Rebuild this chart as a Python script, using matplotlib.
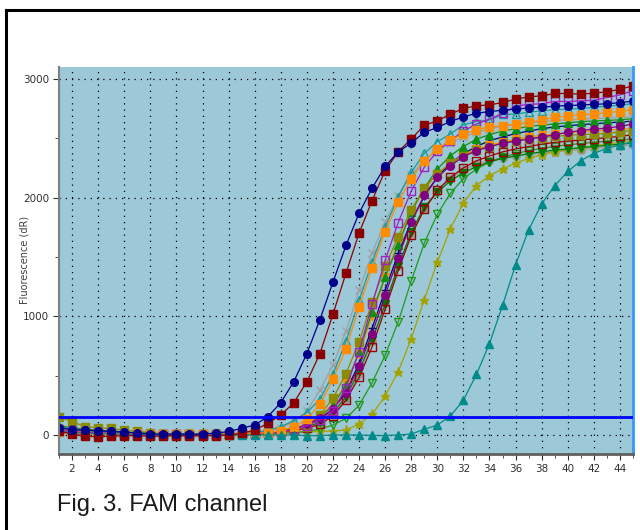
import matplotlib
matplotlib.use('Agg')
import matplotlib.pyplot as plt
from matplotlib.lines import Line2D
from matplotlib.ticker import MultipleLocator

cycles = list(range(1, 46))

# amplification curves, one list per well (dR per cycle)
navy_circle = [60, 45, 40, 35, 30, 25, 15, 10, 5, 10, 5, 10, 15, 30, 56, 84, 154, 272, 450, 686,
               972, 1288, 1597, 1868, 2080, 2262, 2385, 2460, 2549, 2591, 2641, 2680, 2710, 2725, 2735,
               2745, 2755, 2760, 2770, 2775, 2780, 2785, 2790, 2800, 2812]
darkred_square = [30, 10, -10, -15, -10, -5, -5, -10, -10, -5, -10, -5, -5, 0, 15, 40, 98, 168, 272, 448,
                  686, 1017, 1364, 1700, 1975, 2227, 2387, 2493, 2610, 2645, 2703, 2751, 2773, 2781, 2801,
                  2829, 2849, 2857, 2877, 2877, 2871, 2880, 2891, 2913, 2941]
purple_open_square = [40, 30, 20, 20, 15, 10, 5, 0, 0, 5, 0, 0, 5, 5, 5, 10, 15, 25, 45, 80,
                      130, 200, 400, 700, 1100, 1471, 1790, 2055, 2255, 2390, 2480, 2560, 2620, 2660, 2710,
                      2770, 2786, 2790, 2810, 2810, 2815, 2820, 2843, 2865, 2900]
orange_square = [22, 15, 10, 5, 10, 5, 15, 5, 5, 5, 5, 10, 5, 10, 10, 15, 20, 36, 70, 132,
                 257, 468, 728, 1078, 1406, 1714, 1961, 2157, 2311, 2409, 2485, 2535, 2569, 2597, 2605,
                 2619, 2633, 2653, 2675, 2689, 2697, 2703, 2717, 2725, 2740]
teal_open_triangle = [70, 50, 40, 30, 30, 20, 15, 10, 10, 5, 10, 5, 10, 10, 15, 20, 40, 70, 120, 190,
                      300, 512, 790, 1134, 1456, 1750, 2008, 2213, 2372, 2470, 2535, 2613, 2641, 2653, 2700,
                      2703, 2720, 2730, 2740, 2745, 2750, 2760, 2770, 2780, 2790]
gray_cross = [50, 40, 30, 25, 20, 15, 10, 10, 5, 5, 5, 5, 10, 10, 15, 20, 35, 60, 110, 200,
              378, 588, 876, 1218, 1532, 1798, 2017, 2190, 2310, 2400, 2460, 2510, 2550, 2580, 2600,
              2615, 2630, 2640, 2650, 2655, 2660, 2665, 2670, 2675, 2680]
olive_square = [154, 112, 70, 60, 55, 40, 30, 20, 10, 10, 5, 5, 0, 0, 5, 10, 15, 25, 45, 70,
                168, 308, 518, 784, 1120, 1420, 1672, 1896, 2081, 2200, 2290, 2350, 2400, 2430, 2460,
                2480, 2495, 2505, 2515, 2525, 2530, 2535, 2540, 2555, 2565]
orange_down = [40, 30, 25, 20, 15, 10, 10, 5, 5, 5, 5, 5, 5, 10, 10, 15, 20, 35, 55, 95,
               160, 260, 434, 686, 1000, 1330, 1624, 1880, 2070, 2200, 2290, 2360, 2410, 2440, 2470,
               2490, 2510, 2525, 2535, 2545, 2555, 2560, 2570, 2575, 2585]
green_up = [80, 60, 50, 40, 35, 25, 20, 15, 10, 10, 10, 5, 5, 10, 10, 15, 20, 30, 50, 85,
            150, 250, 420, 700, 1040, 1330, 1600, 1880, 2080, 2240, 2353, 2430, 2493, 2530, 2560,
            2580, 2600, 2610, 2620, 2630, 2640, 2645, 2650, 2655, 2665]
purple_circle = [60, 50, 40, 35, 30, 20, 15, 10, 5, 5, 5, 0, 5, 5, 10, 10, 20, 30, 50, 90,
                 140, 220, 350, 580, 854, 1176, 1493, 1793, 2020, 2171, 2269, 2345, 2395, 2429, 2457,
                 2475, 2493, 2510, 2530, 2549, 2565, 2577, 2585, 2600, 2619]
darkred_open_square = [50, 40, 30, 25, 20, 10, 10, 5, 5, 0, 5, 0, 5, 5, 5, 10, 15, 25, 40, 55,
                       90, 160, 294, 485, 742, 1060, 1384, 1681, 1900, 2060, 2170, 2250, 2310, 2350, 2385,
                       2410, 2430, 2450, 2465, 2475, 2485, 2495, 2505, 2515, 2530]
green_down = [40, 30, 20, 20, 15, 10, 10, 5, 5, 5, 0, 5, 5, 5, 5, 10, 15, 25, 40, 65,
              110, 190, 320, 540, 800, 1100, 1420, 1710, 1919, 2045, 2140, 2210, 2260, 2300, 2330,
              2350, 2370, 2385, 2400, 2410, 2420, 2430, 2440, 2450, 2460]
gray_circle = [30, 25, 20, 15, 10, 10, 5, 5, 0, 0, 5, 0, 5, 5, 5, 10, 15, 25, 40, 60,
               100, 170, 300, 510, 790, 1110, 1420, 1690, 1900, 2050, 2160, 2230, 2280, 2310, 2335,
               2350, 2365, 2375, 2385, 2395, 2405, 2415, 2425, 2435, 2445]
navy_plus = [40, 30, 25, 20, 15, 10, 5, 5, 5, 0, 5, 5, 5, 10, 10, 15, 20, 30, 50, 80,
             130, 220, 370, 600, 900, 1220, 1530, 1800, 2010, 2170, 2290, 2370, 2430, 2480, 2510,
             2540, 2560, 2580, 2595, 2605, 2615, 2622, 2630, 2636, 2645]
green_open_down = [50, 40, 30, 25, 20, 15, 10, 5, 5, 0, 5, 0, 0, 5, 5, 5, 10, 15, 20, 30,
                   50, 84, 140, 250, 440, 672, 952, 1297, 1616, 1860, 2036, 2160, 2240, 2300, 2340,
                   2370, 2395, 2415, 2430, 2445, 2455, 2465, 2475, 2485, 2495]
olive_star = [30, 25, 20, 15, 10, 10, 5, 5, 0, 0, 5, 0, 0, 5, 5, 5, 10, 15, 20, 25,
              30, 35, 42, 92, 174, 328, 532, 812, 1140, 1456, 1736, 1955, 2101, 2185, 2241,
              2290, 2330, 2360, 2385, 2405, 2420, 2435, 2450, 2465, 2480]
teal_triangle = [30, 20, 15, 10, 10, 5, 5, 0, 0, 0, 5, 0, 0, 0, 0, 0, 0, 0, 0, -5,
                 -5, 0, 0, 0, -3, -5, 0, 8, 48, 84, 160, 294, 510, 770, 1092,
                 1434, 1728, 1947, 2100, 2220, 2311, 2372, 2415, 2445, 2470]

threshold = 150

# (values, colour, marker, filled)
wells = [
    (gray_circle, '#999999', 'o', True),
    (olive_star, '#a3a300', '*', True),
    (green_open_down, '#1e9a1e', 'v', False),
    (green_down, '#007a00', 'v', True),
    (darkred_open_square, '#9b0000', 's', False),
    (navy_plus, '#000080', '+', True),
    (gray_cross, '#a0a0a0', 'x', True),
    (orange_down, '#ff8c00', 'v', True),
    (green_up, '#109010', '^', True),
    (olive_square, '#8b8b00', 's', True),
    (purple_circle, '#800080', 'o', True),
    (teal_open_triangle, '#1a9a9a', '^', False),
    (purple_open_square, '#a020c0', 's', False),
    (orange_square, '#ff8c00', 's', True),
    (teal_triangle, '#008b8b', '^', True),
    (darkred_square, '#8b0000', 's', True),
    (navy_circle, '#00008b', 'o', True),
]

fig = plt.figure(figsize=(6.4, 5.3), dpi=100)
ax = fig.add_axes([59 / 640, 1 - 454 / 530, 574 / 640, 387 / 530])
ax.set_facecolor('#9dc8d7')

for vals, col, mk, filled in wells:
    ms = 6.5 if mk == '*' else 5.5
    ax.plot(cycles, vals, color=col, lw=0.9, marker=mk, ms=ms,
            markerfacecolor=col if filled else 'none', markeredgecolor=col,
            markeredgewidth=1.0)

ax.axhline(threshold, color='#0000ff', lw=2, zorder=5)

ax.set_xlim(1, 45)
ax.set_ylim(-160, 3100)
ax.xaxis.set_major_locator(MultipleLocator(2))
ax.xaxis.set_minor_locator(MultipleLocator(1))
ax.yaxis.set_major_locator(MultipleLocator(1000))
ax.yaxis.set_minor_locator(MultipleLocator(500))
ax.tick_params(which='both', direction='out', labelsize=7.5, colors='#303030', pad=3)
ax.tick_params(which='major', length=4)
ax.tick_params(which='minor', length=3)
ax.set_xticks(range(2, 45, 2))
ax.grid(True, which='major', color='black', ls=(0, (1, 4)), lw=0.9)

ax.spines['top'].set_visible(False)
ax.spines['left'].set_color('#808080')
ax.spines['left'].set_linewidth(1.5)
ax.spines['bottom'].set_color('#606060')
ax.spines['bottom'].set_linewidth(2)
ax.spines['right'].set_color('#3399ff')
ax.spines['right'].set_linewidth(2)

fig.text(25 / 640, 1 - 260 / 530, 'Fluorescence (dR)', rotation=90,
         ha='center', va='center', fontsize=7, color='#404040')

fig.text(57 / 640, 1 - 511 / 530, 'Fig. 3. FAM channel', fontsize=17,
         family='Liberation Sans', color='#1a1a1a', ha='left', va='baseline')

# black frame on the left and top
fig.add_artist(Line2D([6 / 640, 6 / 640], [0, 1 - 10 / 530], color='black', lw=2.2,
                      transform=fig.transFigure))
fig.add_artist(Line2D([6 / 640, 1], [1 - 10 / 530, 1 - 10 / 530], color='black', lw=2.2,
                      transform=fig.transFigure))

fig.savefig('out.png', dpi=100)
